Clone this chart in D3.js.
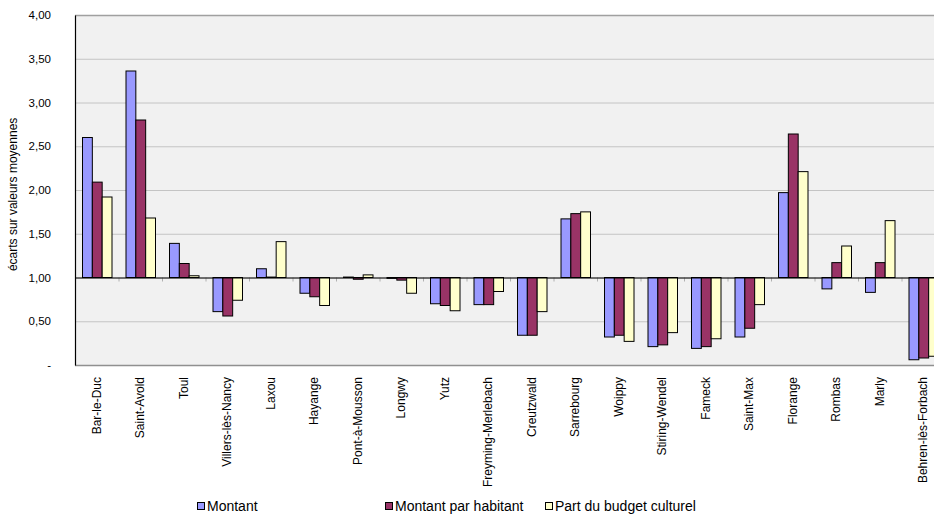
<!DOCTYPE html>
<html>
<head>
<meta charset="utf-8">
<script src="https://cdn.jsdelivr.net/npm/d3@7"></script>
<style>
  body { margin: 0; background: #fff; }
  svg { display: block; font-family: "Liberation Sans", Arial, sans-serif; }
</style>
</head>
<body>
<svg id="chart" width="934" height="518"></svg>
<script>
// Communes compared against the average (1,00 = average)
const communes = ["Bar-le-Duc", "Saint-Avold", "Toul", "Villers-lès-Nancy", "Laxou", "Hayange",
  "Pont-à-Mousson", "Longwy", "Yutz", "Freyming-Merlebach", "Creutzwald", "Sarrebourg",
  "Woippy", "Stiring-Wendel", "Fameck", "Saint-Max", "Florange", "Rombas", "Marly",
  "Behren-lès-Forbach"];

const seriesNames = ["Montant", "Montant par habitant", "Part du budget culturel"];

const montant = [2.60, 3.36, 1.39, 0.61, 1.10, 0.82, 1.005, 0.99, 0.70, 0.69, 0.34, 1.67,
  0.32, 0.21, 0.19, 0.32, 1.97, 0.87, 0.83, 0.06];
const montantParHabitant = [2.09, 2.80, 1.16, 0.56, 1.005, 0.78, 0.98, 0.97, 0.68, 0.69, 0.34, 1.73,
  0.34, 0.23, 0.21, 0.42, 2.64, 1.17, 1.17, 0.08];
const partBudget = [1.92, 1.68, 1.02, 0.74, 1.41, 0.68, 1.03, 0.82, 0.62, 0.84, 0.61, 1.75,
  0.27, 0.37, 0.30, 0.69, 2.21, 1.36, 1.65, 0.10];

const yTicks = [0, 0.5, 1, 1.5, 2, 2.5, 3, 3.5, 4];
const baseline = 1;

const colors = ["#9999ff", "#993366", "#ffffcc"];
const seriesValues = [montant, montantParHabitant, partBudget];

const svg = d3.select("#chart");
const plot = { left: 75, top: 15, width: 870, height: 350 };

const x = d3.scaleBand().domain(communes).range([plot.left, plot.left + plot.width]).paddingInner(0).paddingOuter(0);
const xInner = d3.scaleBand().domain(d3.range(3)).range([7, x.bandwidth() - 7]);
const y = d3.scaleLinear().domain([0, 4]).range([plot.top + plot.height, plot.top]);

// plot background
svg.append("rect")
  .attr("x", plot.left).attr("y", plot.top)
  .attr("width", plot.width).attr("height", plot.height)
  .attr("fill", "#f1f1f1");

// horizontal gridlines
svg.append("g").selectAll("line")
  .data(yTicks.filter(t => t > 0 && t < 4))
  .join("line")
  .attr("x1", plot.left).attr("x2", plot.left + plot.width)
  .attr("y1", d => y(d) + 0.5).attr("y2", d => y(d) + 0.5)
  .attr("stroke", "#c4c4c4").attr("stroke-width", 1);

// top and bottom frame
svg.append("line")
  .attr("x1", plot.left).attr("x2", plot.left + plot.width)
  .attr("y1", y(4) + 0.5).attr("y2", y(4) + 0.5)
  .attr("stroke", "#a0a0a0").attr("stroke-width", 1.5);
svg.append("line")
  .attr("x1", plot.left).attr("x2", plot.left + plot.width)
  .attr("y1", y(0) + 0.5).attr("y2", y(0) + 0.5)
  .attr("stroke", "#909090").attr("stroke-width", 1.5);

// y axis
const yAxis = d3.axisLeft(y)
  .tickValues(yTicks)
  .tickSize(0)
  .tickPadding(24)
  .tickFormat(d => d === 0 ? "-" : d3.format(".2f")(d).replace(".", ","));
const gy = svg.append("g").attr("transform", `translate(${plot.left},0)`).call(yAxis);
gy.select(".domain").attr("stroke", "#000").attr("stroke-width", 1.2);
gy.selectAll("text").attr("font-size", 11.5).attr("fill", "#000")
  .attr("font-family", "'Liberation Sans', Arial, sans-serif");

// y axis title
svg.append("text")
  .attr("transform", `translate(17,${y(1.95)}) rotate(-90)`)
  .attr("text-anchor", "middle")
  .attr("font-size", 12)
  .text("écarts sur valeurs moyennes");

// bars, growing from the average line
const groups = svg.append("g").selectAll("g")
  .data(communes)
  .join("g")
  .attr("transform", d => `translate(${x(d)},0)`);

groups.selectAll("rect")
  .data((d, i) => seriesValues.map((vals, s) => ({ s, v: vals[i] })))
  .join("rect")
  .attr("x", d => xInner(d.s) + 0.5)
  .attr("width", xInner.bandwidth())
  .attr("y", d => y(Math.max(d.v, baseline)))
  .attr("height", d => Math.abs(y(d.v) - y(baseline)))
  .attr("fill", d => colors[d.s])
  .attr("stroke", "#000")
  .attr("stroke-width", 1);

// category separator ticks below the average line
svg.append("g").selectAll("line")
  .data(communes.slice(1))
  .join("line")
  .attr("x1", d => x(d) + 0.5).attr("x2", d => x(d) + 0.5)
  .attr("y1", y(baseline)).attr("y2", y(baseline) + 4)
  .attr("stroke", "#b0b0b0");

// average line
svg.append("line")
  .attr("x1", plot.left).attr("x2", plot.left + plot.width)
  .attr("y1", y(baseline) + 0.5).attr("y2", y(baseline) + 0.5)
  .attr("stroke", "#000").attr("stroke-width", 1);

// category labels
svg.append("g").selectAll("text")
  .data(communes)
  .join("text")
  .attr("transform", d => `translate(${x(d) + x.bandwidth() / 2 + 4},${y(0) + 12}) rotate(-90)`)
  .attr("text-anchor", "end")
  .attr("font-size", 12)
  .text(d => d);

// legend
const legendX = [197, 385, 545];
const legend = svg.append("g").selectAll("g")
  .data(seriesNames)
  .join("g")
  .attr("transform", (d, i) => `translate(${legendX[i]},510)`);
legend.append("rect")
  .attr("x", 0.5).attr("y", -7.5)
  .attr("width", 7).attr("height", 7)
  .attr("fill", (d, i) => colors[i])
  .attr("stroke", "#000");
legend.append("text")
  .attr("x", 10).attr("y", 0)
  .attr("dy", "0.1em")
  .attr("font-size", 14)
  .text(d => d);
</script>
</body>
</html>
